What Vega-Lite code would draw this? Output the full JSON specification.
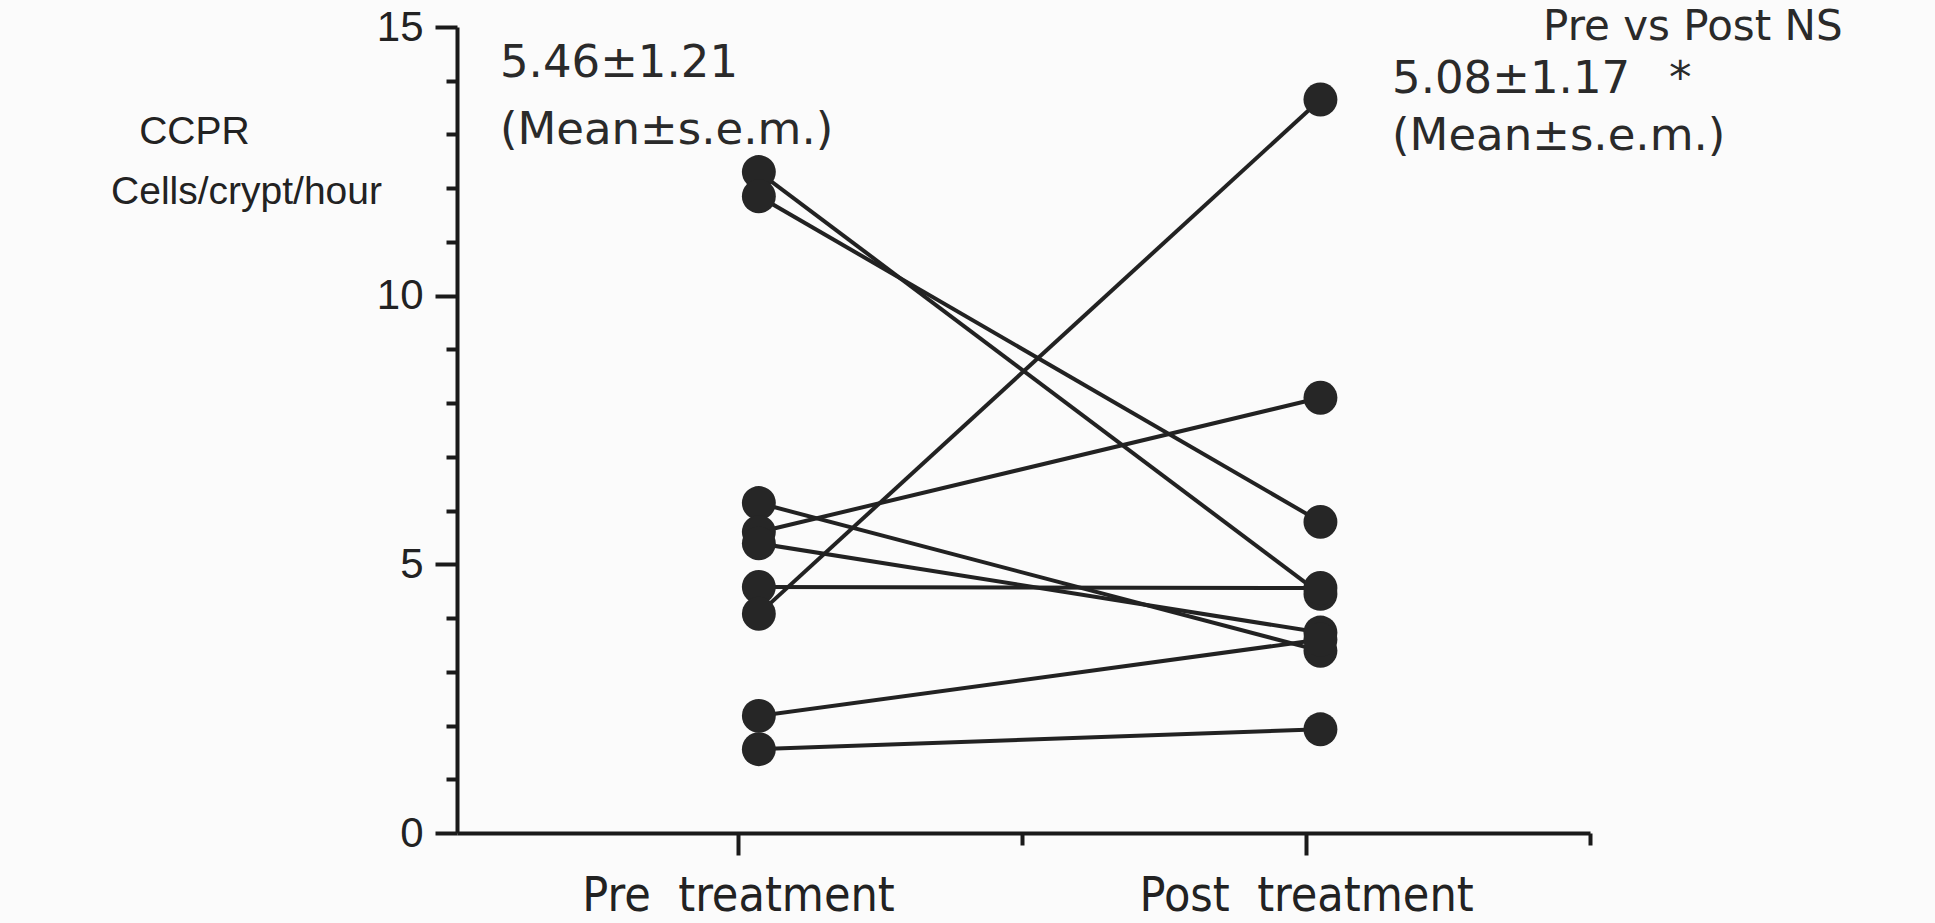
{
  "$schema": "https://vega.github.io/schema/vega-lite/v6.json",
  "width": 1133,
  "height": 806,
  "autosize": {"type": "none"},
  "padding": {"left": 457, "top": 27, "right": 345, "bottom": 90},
  "background": "#fbfbfb",
  "config": {"view": {"stroke": null}},
  "datasets": {
    "ccpr": [
      {"id": 1, "phase": "Pre treatment", "t": 1, "ccpr": 12.3},
      {"id": 1, "phase": "Post treatment", "t": 3, "ccpr": 4.45},
      {"id": 2, "phase": "Pre treatment", "t": 1, "ccpr": 11.85},
      {"id": 2, "phase": "Post treatment", "t": 3, "ccpr": 5.79},
      {"id": 3, "phase": "Pre treatment", "t": 1, "ccpr": 6.14},
      {"id": 3, "phase": "Post treatment", "t": 3, "ccpr": 3.39},
      {"id": 4, "phase": "Pre treatment", "t": 1, "ccpr": 5.6},
      {"id": 4, "phase": "Post treatment", "t": 3, "ccpr": 8.1},
      {"id": 5, "phase": "Pre treatment", "t": 1, "ccpr": 5.39},
      {"id": 5, "phase": "Post treatment", "t": 3, "ccpr": 3.73},
      {"id": 6, "phase": "Pre treatment", "t": 1, "ccpr": 4.58},
      {"id": 6, "phase": "Post treatment", "t": 3, "ccpr": 4.56},
      {"id": 7, "phase": "Pre treatment", "t": 1, "ccpr": 4.08},
      {"id": 7, "phase": "Post treatment", "t": 3, "ccpr": 13.65},
      {"id": 8, "phase": "Pre treatment", "t": 1, "ccpr": 2.18},
      {"id": 8, "phase": "Post treatment", "t": 3, "ccpr": 3.6},
      {"id": 9, "phase": "Pre treatment", "t": 1, "ccpr": 1.56},
      {"id": 9, "phase": "Post treatment", "t": 3, "ccpr": 1.93}
    ],
    "notes": [
      {"x": 0.078, "y": 14.07, "text": "5.46±1.21", "kind": "stat"},
      {"x": 0.078, "y": 12.82, "text": "(Mean±s.e.m.)", "kind": "stat"},
      {"x": 3.255, "y": 13.77, "text": "5.08±1.17", "kind": "stat"},
      {"x": 4.241, "y": 13.77, "text": "*", "kind": "stat"},
      {"x": 3.255, "y": 12.71, "text": "(Mean±s.e.m.)", "kind": "stat"},
      {"x": 3.793, "y": 14.76, "text": "Pre vs Post NS", "kind": "head"},
      {"x": -1.207, "y": 12.82, "text": "CCPR", "kind": "title"},
      {"x": -1.307, "y": 11.71, "text": "Cells/crypt/hour", "kind": "title"}
    ]
  },
  "layer": [
    {
      "data": {"name": "ccpr"},
      "mark": {"type": "line", "color": "#222", "strokeWidth": 4},
      "encoding": {
        "x": {
          "field": "t",
          "type": "quantitative",
          "scale": {"domain": [-0.075, 3.96], "nice": false, "zero": false},
          "axis": {
            "title": null,
            "values": [0.926, 1.937, 2.949, 3.96],
            "grid": false,
            "domainColor": "#1a1a1a",
            "domainWidth": 4,
            "tickColor": "#1a1a1a",
            "tickWidth": 4,
            "tickSize": {"condition": {"test": "datum.value < 1.5 || (datum.value > 2.5 && datum.value < 3.5)", "value": 22}, "value": 12},
            "labelExpr": "datum.value < 1.5 ? 'Pre\u00a0 treatment' : (datum.value > 2.5 && datum.value < 3.5 ? 'Post\u00a0 treatment' : '')",
            "labelFont": "Liberation Sans Narrow, DejaVu Sans Condensed, Liberation Sans",
            "labelFontSize": 48,
            "labelColor": "#222",
            "labelPadding": 17,
            "labelLimit": 0,
            "labelFlush": false,
            "labelOverlap": false
          }
        },
        "y": {
          "field": "ccpr",
          "type": "quantitative",
          "scale": {"domain": [0, 15], "nice": false},
          "axis": {
            "title": null,
            "values": [0, 1, 2, 3, 4, 5, 6, 7, 8, 9, 10, 11, 12, 13, 14, 15],
            "grid": false,
            "domainColor": "#1a1a1a",
            "domainWidth": 4,
            "tickColor": "#1a1a1a",
            "tickWidth": 4,
            "tickSize": {"condition": {"test": "datum.value % 5 == 0", "value": 22}, "value": 11},
            "labelExpr": "datum.value % 5 == 0 ? datum.label : ''",
            "labelFont": "Liberation Sans",
            "labelFontSize": 42,
            "labelColor": "#222",
            "labelPadding": 12,
            "labelOverlap": false
          }
        },
        "detail": {"field": "id", "type": "nominal"}
      }
    },
    {
      "data": {"name": "ccpr"},
      "mark": {"type": "point", "filled": true, "size": 1150, "color": "#262626", "opacity": 1},
      "encoding": {
        "x": {"field": "t", "type": "quantitative"},
        "y": {"field": "ccpr", "type": "quantitative"}
      }
    },
    {
      "data": {"name": "notes"},
      "transform": [{"filter": "datum.kind == 'stat'"}],
      "mark": {"type": "text", "align": "left", "baseline": "alphabetic", "font": "DejaVu Sans", "fontSize": 45, "color": "#2a2a2a"},
      "encoding": {
        "x": {"field": "x", "type": "quantitative"},
        "y": {"field": "y", "type": "quantitative"},
        "text": {"field": "text", "type": "nominal"}
      }
    },
    {
      "data": {"name": "notes"},
      "transform": [{"filter": "datum.kind == 'head'"}],
      "mark": {"type": "text", "align": "left", "baseline": "alphabetic", "font": "DejaVu Sans", "fontSize": 42, "color": "#2a2a2a"},
      "encoding": {
        "x": {"field": "x", "type": "quantitative"},
        "y": {"field": "y", "type": "quantitative"},
        "text": {"field": "text", "type": "nominal"}
      }
    },
    {
      "data": {"name": "notes"},
      "transform": [{"filter": "datum.kind == 'title'"}],
      "mark": {"type": "text", "align": "left", "baseline": "alphabetic", "font": "Liberation Sans", "fontSize": 39, "color": "#222"},
      "encoding": {
        "x": {"field": "x", "type": "quantitative"},
        "y": {"field": "y", "type": "quantitative"},
        "text": {"field": "text", "type": "nominal"}
      }
    }
  ]
}
